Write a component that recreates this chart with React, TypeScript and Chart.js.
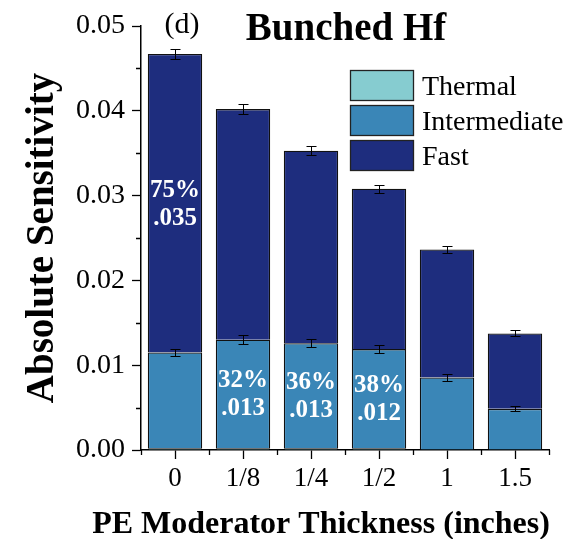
import { useEffect, useRef } from 'react';
import { Chart, registerables } from 'chart.js';

Chart.register(...registerables);

const categories = ['0', '1/8', '1/4', '1/2', '1', '1.5'];
const thermal = [0.0002, 0.0002, 0.0002, 0.0002, 0.00005, 0.00005];
const intermediate = [0.0113, 0.0128, 0.0124, 0.0117, 0.0085, 0.0048];
const fast = [0.0352, 0.0272, 0.0227, 0.0189, 0.0151, 0.0089];
const intermediateErr = [0.0004, 0.00055, 0.0005, 0.00045, 0.0004, 0.0003];
const totalErr = [0.0006, 0.0006, 0.0005, 0.0005, 0.0004, 0.00035];
const yTicks = [0, 0.01, 0.02, 0.03, 0.04, 0.05];
const barLabelSeries = [2, 1, 1, 1, -1, -1];
const barLabelPct = ['75%', '32%', '36%', '38%', '', ''];
const barLabelVal = ['.035', '.013', '.013', '.012', '', ''];
const seriesNames = ['Thermal', 'Intermediate', 'Fast'];
const seriesColors = ['#86ccd0', '#3a86b7', '#1e2d7e'];

const FONT = '"Liberation Serif", "Times New Roman", serif';

const minorTicksPlugin = {
  id: 'minorTicks',
  afterDraw(chart: any) {
    const ctx = chart.ctx;
    const x = chart.scales.x;
    const y = chart.scales.y;
    ctx.save();
    ctx.strokeStyle = '#000';
    ctx.lineWidth = 1.3;
    ctx.beginPath();
    for (let i = 0; i < yTicks.length - 1; i++) {
      const py = Math.round(y.getPixelForValue((yTicks[i] + yTicks[i + 1]) / 2)) + 0.5;
      ctx.moveTo(y.right - 5, py);
      ctx.lineTo(y.right, py);
    }
    const n = categories.length;
    for (let i = 0; i <= n; i++) {
      const px = Math.round(x.left + (i * x.width) / n) + 0.5;
      ctx.moveTo(px, x.top);
      ctx.lineTo(px, x.top + 5);
    }
    ctx.stroke();
    ctx.restore();
  },
};

const errorBarPlugin = {
  id: 'errorBars',
  afterDatasetsDraw(chart: any) {
    const ctx = chart.ctx;
    const x = chart.scales.x;
    const y = chart.scales.y;
    ctx.save();
    ctx.strokeStyle = '#000';
    ctx.lineWidth = 1;
    categories.forEach((_, i) => {
      const cx = Math.round(x.getPixelForValue(i)) + 0.5;
      const pts: [number, number][] = [
        [thermal[i] + intermediate[i], intermediateErr[i]],
        [thermal[i] + intermediate[i] + fast[i], totalErr[i]],
      ];
      pts.forEach(([v, e]) => {
        const y1 = Math.round(y.getPixelForValue(v + e)) + 0.5;
        const y2 = Math.round(y.getPixelForValue(v - e)) + 0.5;
        ctx.beginPath();
        ctx.moveTo(cx, y1);
        ctx.lineTo(cx, y2);
        ctx.moveTo(cx - 5, y1);
        ctx.lineTo(cx + 5, y1);
        ctx.moveTo(cx - 5, y2);
        ctx.lineTo(cx + 5, y2);
        ctx.stroke();
      });
    });
    ctx.restore();
  },
};

const barLabelPlugin = {
  id: 'barLabels',
  afterDatasetsDraw(chart: any) {
    const ctx = chart.ctx;
    ctx.save();
    ctx.fillStyle = '#fff';
    ctx.font = `bold 25px ${FONT}`;
    ctx.textAlign = 'center';
    ctx.textBaseline = 'middle';
    categories.forEach((_, i) => {
      const s = barLabelSeries[i];
      if (s < 0) return;
      const el = chart.getDatasetMeta(s).data[i];
      const cy = (el.y + el.base) / 2;
      ctx.fillText(barLabelPct[i], el.x, cy - 13);
      ctx.fillText(barLabelVal[i], el.x, cy + 15);
    });
    ctx.restore();
  },
};

const legendPlugin = {
  id: 'customLegend',
  afterDraw(chart: any) {
    const ctx = chart.ctx;
    const area = chart.chartArea;
    const x0 = area.left + 209;
    const y0 = area.top + 44;
    ctx.save();
    chart.data.datasets.forEach((ds: any, i: number) => {
      const by = y0 + i * 35;
      ctx.fillStyle = ds.backgroundColor;
      ctx.fillRect(x0, by, 64, 31);
      ctx.strokeStyle = '#222';
      ctx.lineWidth = 1.3;
      ctx.strokeRect(x0 + 0.5, by + 0.5, 63, 30);
      ctx.fillStyle = '#000';
      ctx.font = `28px ${FONT}`;
      ctx.textAlign = 'left';
      ctx.textBaseline = 'alphabetic';
      ctx.fillText(ds.label, x0 + 72, by + 15.5 + 9.5);
    });
    ctx.restore();
  },
};

const textPlugin = {
  id: 'texts',
  afterDraw(chart: any) {
    const ctx = chart.ctx;
    ctx.save();
    ctx.fillStyle = '#000';
    ctx.textAlign = 'center';
    ctx.textBaseline = 'alphabetic';
    ctx.font = `30px ${FONT}`;
    ctx.fillText('(d)', 182, 33);
    ctx.font = `bold 39px ${FONT}`;
    ctx.fillText('Bunched Hf', 346, 40);
    ctx.font = `bold 32px ${FONT}`;
    ctx.fillText('PE Moderator Thickness (inches)', 321, 533);
    ctx.translate(53, (chart.chartArea.top + chart.chartArea.bottom) / 2);
    ctx.rotate(-Math.PI / 2);
    ctx.font = `bold 39px ${FONT}`;
    ctx.fillText('Absolute Sensitivity', 0, 0);
    ctx.restore();
  },
};

export default function App() {
  const ref = useRef<HTMLCanvasElement>(null);
  useEffect(() => {
    const chart = new Chart(ref.current as HTMLCanvasElement, {
      type: 'bar',
      data: {
        labels: categories,
        datasets: [thermal, intermediate, fast].map((d, i) => ({
          label: seriesNames[i],
          data: d,
          backgroundColor: seriesColors[i],
          borderColor: '#111',
          borderWidth: 1.3,
          barPercentage: 0.8,
          categoryPercentage: 1.0,
        })),
      },
      options: {
        animation: false,
        responsive: false,
        layout: { padding: { top: 26, right: 34, left: 0, bottom: 0 } },
        plugins: {
          legend: { display: false },
          title: { display: false },
          tooltip: { enabled: false },
        },
        scales: {
          x: {
            stacked: true,
            offset: true,
            grid: {
              display: true,
              drawOnChartArea: false,
              offset: false,
              tickLength: 9,
              tickColor: '#000',
              tickWidth: 1.3,
            },
            border: { display: true, color: '#000', width: 1.5 },
            ticks: {
              color: '#000',
              font: { family: FONT, size: 27 },
              padding: 4,
              maxRotation: 0,
              autoSkip: false,
            },
            afterFit: (s: any) => {
              s.height = 89;
            },
          },
          y: {
            stacked: true,
            min: 0,
            max: 0.05,
            afterBuildTicks: (s: any) => {
              s.ticks = yTicks.map((v) => ({ value: v }));
            },
            grid: {
              display: true,
              drawOnChartArea: false,
              tickLength: 9,
              tickColor: '#000',
              tickWidth: 1.3,
            },
            border: { display: true, color: '#000', width: 1.5 },
            ticks: {
              color: '#000',
              font: { family: FONT, size: 28 },
              padding: 7,
              callback: (v: any) => Number(v).toFixed(2),
            },
            afterFit: (s: any) => {
              s.width = 141;
            },
          },
        },
      },
      plugins: [errorBarPlugin, barLabelPlugin, minorTicksPlugin, legendPlugin, textPlugin],
    });
    return () => chart.destroy();
  }, []);
  return (
    <div style={{ position: 'absolute', left: 0, top: 0, width: 583, height: 539 }}>
      <canvas ref={ref} width={583} height={539} style={{ display: 'block' }} />
    </div>
  );
}
